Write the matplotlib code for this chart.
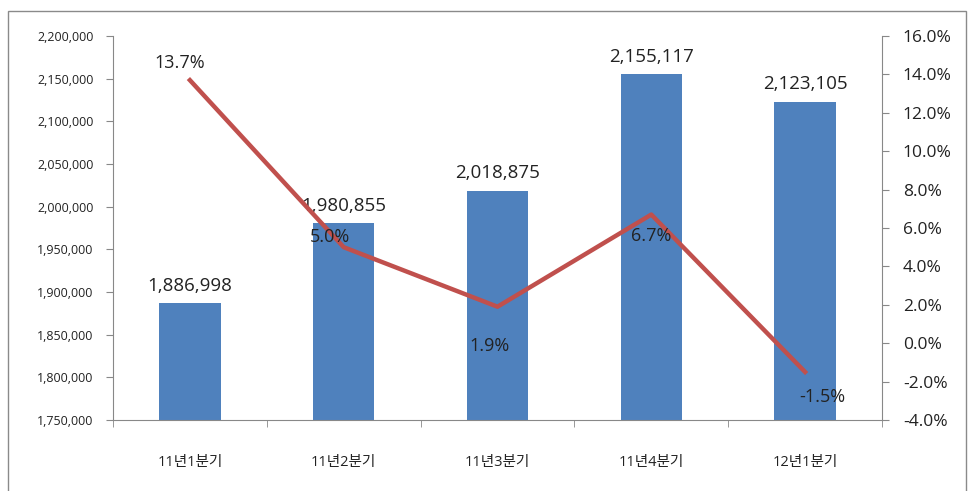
import matplotlib
matplotlib.use("Agg")
import matplotlib.pyplot as plt
from matplotlib.patches import Rectangle
from matplotlib.ticker import FuncFormatter, MultipleLocator

plt.rcParams['font.family'] = ['Open Sans', 'Noto Sans CJK KR', 'DejaVu Sans']

categories = ['11년1분기', '11년2분기', '11년3분기', '11년4분기', '12년1분기']
volumes = [1886998, 1980855, 2018875, 2155117, 2123105]
growth = [13.7, 5.0, 1.9, 6.7, -1.5]
growth_label_offsets_px = [(-10, 17), (-14, 10), (-8, -39), (0, -21), (17, -25)]

W, H = 973, 491
fig = plt.figure(figsize=(W / 100, H / 100), dpi=100)
fig.patch.set_facecolor('white')
fig.patches.append(Rectangle((8 / W, -0.02), (966 - 8) / W, 1 - 11 / H + 0.02,
                             transform=fig.transFigure, fill=False,
                             edgecolor='#8a8a8a', linewidth=1.0))

ax = fig.add_axes([113 / W, 1 - 420 / H, (882 - 113) / W, (420 - 36) / H])
ax2 = ax.twinx()

x = list(range(len(categories)))
bar_color = '#4F81BD'
line_color = '#C0504D'
text_color = '#222222'

ax.bar(x, volumes, width=0.4, color=bar_color, zorder=2)
ax.set_xlim(-0.5, len(categories) - 0.5)
ax.set_ylim(1750000, 2200000)
ax.yaxis.set_major_locator(MultipleLocator(50000))
ax.yaxis.set_major_formatter(FuncFormatter(lambda v, p: f'{int(v):,}'))
ax.set_xticks(x)
ax.set_xticklabels(categories, fontsize=10.5, color=text_color)
ax.set_xticks([i - 0.5 for i in range(len(categories) + 1)], minor=True)
ax.tick_params(axis='x', which='major', length=0, pad=25)
ax.tick_params(axis='x', which='minor', length=5, color='#888888', direction='out')
ax.tick_params(axis='y', length=5, color='#888888', labelsize=9, labelcolor=text_color, pad=9)

for xi, v in zip(x, volumes):
    ax.annotate(f'{v:,}', (xi, v), xytext=(0, 6), textcoords='offset points',
                ha='center', va='bottom', fontsize=13.5, color=text_color, zorder=5)

ax2.plot(x, growth, color=line_color, linewidth=3.2, zorder=3, solid_joinstyle='round')
ax2.set_ylim(-4, 16)
ax2.yaxis.set_major_locator(MultipleLocator(2))
ax2.yaxis.set_major_formatter(FuncFormatter(lambda v, p: f'{v:.1f}%'))
ax2.tick_params(axis='y', length=5, color='#888888', labelsize=12.5, labelcolor=text_color, pad=10)

for xi, g, (dx, dy) in zip(x, growth, growth_label_offsets_px):
    ax2.annotate(f'{g:.1f}%', (xi, g), xytext=(dx * 0.72, dy * 0.72), textcoords='offset points',
                 ha='center', va='center', fontsize=13, color=text_color, zorder=6)

for a in (ax, ax2):
    a.spines['top'].set_visible(False)
    for s in ('left', 'right', 'bottom'):
        a.spines[s].set_color('#888888')
ax.spines['right'].set_visible(False)
ax2.spines['left'].set_visible(False)
ax2.spines['bottom'].set_visible(False)

fig.savefig('out.png', dpi=100)
